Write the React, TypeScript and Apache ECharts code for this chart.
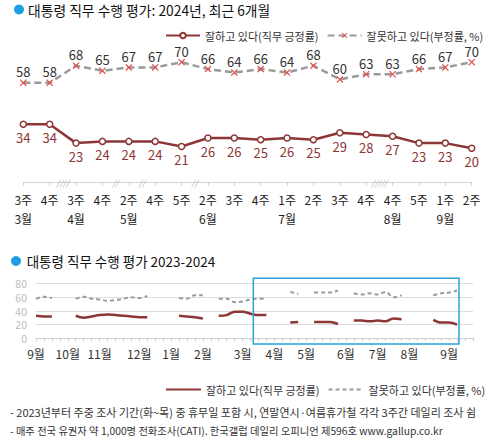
import React, { useEffect, useRef } from 'react';
import * as echarts from 'echarts';

const FONT = '"Noto Sans CJK KR", "Noto Sans", sans-serif';

// ---- Top chart (2024, last 6 months) ----
const topWeeks = ['3주', '4주', '3주', '4주', '2주', '4주', '5주', '2주', '3주', '4주', '1주', '2주', '3주', '4주', '4주', '5주', '1주', '2주'];
const topMonths = ['3월', '', '4월', '', '5월', '', '', '6월', '', '', '7월', '', '', '', '8월', '', '9월', ''];
const topPositive = [34, 34, 23, 24, 24, 24, 21, 26, 26, 25, 26, 25, 29, 28, 27, 23, 23, 20];
const topNegative = [58, 58, 68, 65, 67, 67, 70, 66, 64, 66, 64, 68, 60, 63, 63, 66, 67, 70];
const topBreakAfter = [1, 3, 4, 6, 13];
const topBreakMarks = ['////', '//', '//', '//', '/////'];

// ---- Bottom chart (2023-2024 weekly) ----
const bottomMonthLabels = ['9월', '10월', '11월', '12월', '1월', '2월', '3월', '4월', '5월', '6월', '7월', '8월', '9월'];
const bottomMonthAt = [0, 4, 8, 13, 17, 21, 26, 30, 34, 39, 43, 47, 52];
const bottomPositive = [
  33, 32, 32, null, null, 33, 30, 32, 34, 35, 34, 33, 32, 31, 31, null, null, null,
  33, 32, 31, 29, null, 33, 34, 39, 39, 36, 34, 34, null, null, 23, 24, null, 24,
  24, 24, 21, null, 26, 26, 25, 26, 25, 29, 28, null, null, null, 27, 23, 23, 20, null, null,
];
const bottomNegative = [
  58, 61, 59, null, null, 58, 61, 58, 57, 55, 56, 58, 60, 59, 62, null, null, null,
  59, 58, 63, 63, null, 58, 58, 53, 54, 57, 58, 58, null, null, 68, 65, null, 67,
  67, 67, 70, null, 66, 64, 66, 64, 68, 60, 63, null, null, null, 63, 66, 67, 70, null, null,
];

const POS_NAME = '잘하고 있다(직무 긍정률)';
const NEG_NAME = '잘못하고 있다(부정률, %)';
const TITLE_TOP = '대통령 직무 수행 평가: 2024년, 최근 6개월';
const TITLE_BOTTOM = '대통령 직무 수행 평가 2023-2024';
const FOOT1 = '- 2023년부터 주중 조사 기간(화~목) 중 휴무일 포함 시, 연말연시·여름휴가철 각각 3주간 데일리 조사 쉼';
const FOOT2 = '- 매주 전국 유권자 약 1,000명 전화조사(CATI). 한국갤럽 데일리 오피니언 제596호 www.gallup.co.kr';

const RED = '#8c3636';
const GRAY = '#9a9a9a';
const XRED = '#e0504a';
const BLUE = '#1e9fe3';
const X_PATH = 'path://M0,1.2L1.2,0L5,3.8L8.8,0L10,1.2L6.2,5L10,8.8L8.8,10L5,6.2L1.2,10L0,8.8L3.8,5Z';

export default function App() {
  const ref = useRef<HTMLDivElement>(null);

  useEffect(() => {
    if (!ref.current) return;
    const chart = echarts.init(ref.current, undefined, { renderer: 'svg' });
    const topCats = topWeeks.map((_, i) => String(i));
    const bottomCats = bottomPositive.map((_, i) => String(i));
    const legendNames: Record<string, string> = { pos2: POS_NAME, neg2: NEG_NAME };

    chart.setOption({
      animation: false,
      textStyle: { fontFamily: FONT },
      grid: [
        { left: 23.3, right: 31.3, top: 45, bottom: 259.3 },
        { left: 36, right: 30, top: 283.7, bottom: 103.7 },
      ],
      legend: [
        {
          left: 160, top: 24, itemWidth: 34, itemHeight: 7, itemGap: 8,
          textStyle: { fontSize: 11, lineHeight: 13, color: '#333', fontFamily: FONT },
          data: [POS_NAME, NEG_NAME],
          selectedMode: false,
        },
        {
          left: 160, top: 378, itemWidth: 35, itemHeight: 7, itemGap: 8,
          textStyle: { fontSize: 11, lineHeight: 13, color: '#333', fontFamily: FONT },
          data: ['pos2', 'neg2'],
          itemStyle: { color: 'rgba(0,0,0,0)', borderWidth: 0, opacity: 0 },
          formatter: (n: string) => legendNames[n] || n,
          selectedMode: false,
        },
      ],
      xAxis: [
        {
          type: 'category', gridIndex: 0, data: topCats, boundaryGap: false,
          axisLine: { lineStyle: { color: '#d4d4d4', width: 1 } },
          axisTick: { show: true, length: 3, interval: 0, lineStyle: { color: '#cfcfcf' } },
          axisLabel: {
            interval: 0, margin: 7, fontSize: 12, color: '#222', lineHeight: 19.5, fontFamily: FONT,
            formatter: (_v: string, i: number) => `${topWeeks[i]}\n${topMonths[i] || ' '}`,
          },
        },
        {
          type: 'category', gridIndex: 1, data: bottomCats, boundaryGap: false,
          axisLine: { lineStyle: { color: '#cfcfcf', width: 1 } },
          axisTick: { show: true, length: 3, interval: 0, lineStyle: { color: '#cfcfcf' } },
          axisLabel: {
            interval: 0, margin: 9, fontSize: 12, color: '#333', fontFamily: FONT,
            formatter: (_v: string, i: number) => {
              const k = bottomMonthAt.indexOf(i);
              return k >= 0 ? bottomMonthLabels[k] : '';
            },
          },
        },
      ],
      yAxis: [
        { type: 'value', gridIndex: 0, min: 0, max: 80, show: false, splitLine: { show: false } },
        {
          type: 'value', gridIndex: 1, min: 0, max: 80, interval: 20,
          axisLine: { show: false }, axisTick: { show: false },
          axisLabel: { fontSize: 10.5, lineHeight: 11, color: '#bdbdbd', margin: 9, fontFamily: FONT },
          splitLine: { lineStyle: { color: '#dcdcdc', width: 1 } },
        },
      ],
      series: [
        {
          name: POS_NAME, type: 'line', xAxisIndex: 0, yAxisIndex: 0, data: topPositive,
          symbol: 'circle', symbolSize: 6,
          itemStyle: { color: '#fff', borderColor: RED, borderWidth: 1.5 },
          lineStyle: { color: RED, width: 2.5 },
          label: { show: true, position: 'bottom', distance: 3, fontSize: 13, lineHeight: 13, color: RED, fontFamily: FONT },
          z: 3,
        },
        {
          name: NEG_NAME, type: 'line', xAxisIndex: 0, yAxisIndex: 0, data: topNegative,
          symbol: X_PATH, symbolSize: 7,
          itemStyle: { color: XRED },
          lineStyle: { color: GRAY, width: 2.5, type: [7, 4] },
          label: { show: true, position: 'top', distance: 1, fontSize: 13, lineHeight: 13, color: '#333', fontFamily: FONT },
          z: 3,
        },
        {
          name: 'pos2', type: 'line', xAxisIndex: 1, yAxisIndex: 1, data: bottomPositive,
          showSymbol: false, symbol: 'none', smooth: 0.35, connectNulls: false,
          itemStyle: { color: RED },
          lineStyle: { color: RED, width: 2.5 },
        },
        {
          name: 'neg2', type: 'line', xAxisIndex: 1, yAxisIndex: 1, data: bottomNegative,
          showSymbol: false, symbol: 'none', smooth: 0.35, connectNulls: false,
          itemStyle: { color: GRAY },
          lineStyle: { color: GRAY, width: 2, type: [4, 3] },
        },
      ],
    });

    const breakGraphics = topBreakAfter.map((after, k) => {
      const a = chart.convertToPixel({ xAxisIndex: 0 }, after) as number;
      const b = chart.convertToPixel({ xAxisIndex: 0 }, after + 1) as number;
      const yAxisPx = chart.convertToPixel({ yAxisIndex: 0 }, 0) as number;
      return {
        type: 'text', id: 'brk' + k, x: (a + b) / 2, y: yAxisPx, z: 10,
        style: {
          text: topBreakMarks[k], fill: '#a8a8a8', font: `italic 8px ${FONT}`,
          align: 'center', verticalAlign: 'middle',
        },
      };
    });

    chart.setOption({
      graphic: [
        { type: 'circle', id: 'dot1', shape: { cx: 19, cy: 9.5, r: 5 }, style: { fill: BLUE } },
        {
          type: 'text', id: 't1', x: 28, y: 10,
          style: { text: TITLE_TOP, fill: '#111', font: `13.8px ${FONT}`, verticalAlign: 'middle' },
        },
        { type: 'circle', id: 'dot2', shape: { cx: 16, cy: 261, r: 5 }, style: { fill: BLUE } },
        {
          type: 'text', id: 't2', x: 26.7, y: 261,
          style: { text: TITLE_BOTTOM, fill: '#111', font: `13.5px ${FONT}`, verticalAlign: 'middle' },
        },
        {
          type: 'rect', id: 'box', shape: { x: 253.3, y: 278.3, width: 205.7, height: 65.7 },
          style: { fill: 'none', stroke: '#2aa3d8', lineWidth: 1.5 }, z: 20,
        },
        {
          type: 'text', id: 'f1', x: 10, y: 411.7,
          style: { text: FOOT1, fill: '#333', font: `11px ${FONT}`, verticalAlign: 'middle' },
        },
        {
          type: 'text', id: 'f2', x: 10, y: 430,
          style: { text: FOOT2, fill: '#333', font: `10.3px ${FONT}`, verticalAlign: 'middle' },
        },
        ...breakGraphics,
      ],
    });

    return () => chart.dispose();
  }, []);

  return (
    <div
      ref={ref}
      style={{ position: 'fixed', left: 0, top: 0, width: 503, height: 442, background: '#fff' }}
    />
  );
}
